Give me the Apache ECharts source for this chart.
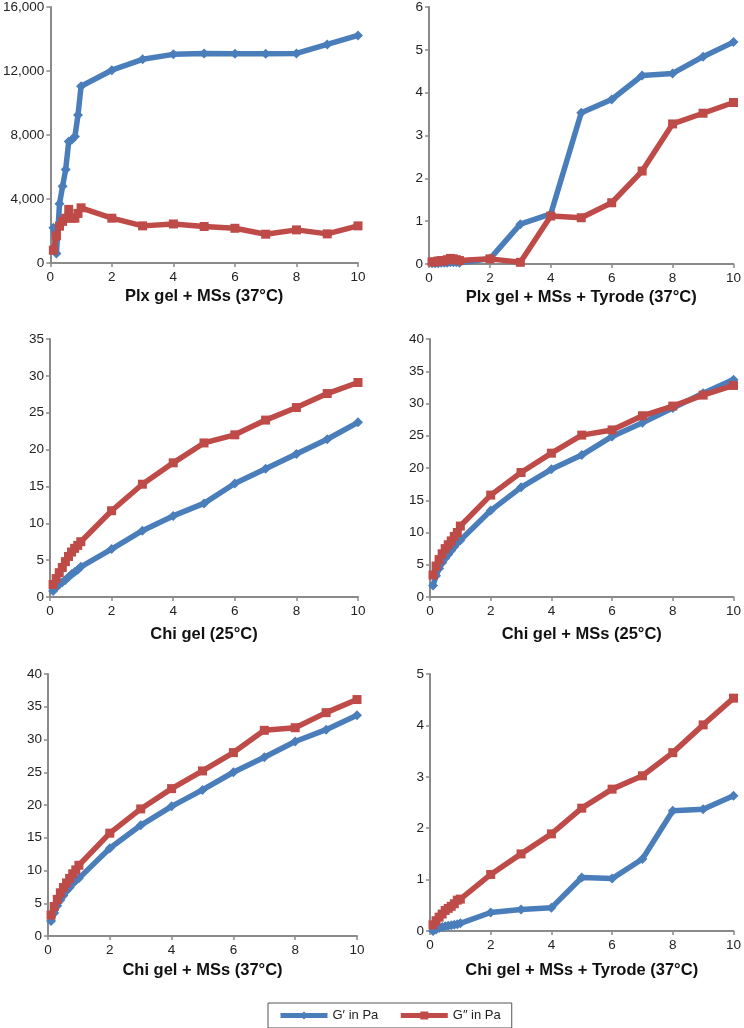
<!DOCTYPE html>
<html>
<head>
<meta charset="utf-8">
<script src="https://cdn.jsdelivr.net/npm/echarts@6/dist/echarts.min.js"></script>
<style>
html,body{margin:0;padding:0;background:#fff;}
#c{width:744px;height:1028px;}
</style>
</head>
<body>
<div id="c"></div>
<script>
// Shear stress / frequency values (x axis)
const xs = [0.1,0.2,0.3,0.4,0.5,0.6,0.7,0.8,0.9,1,2,3,4,5,6,7,8,9,10];
const seriesNames = ['G\u2032 in Pa', 'G\u2033 in Pa'];

const titles = [
  'Plx gel + MSs (37\u00B0C)',
  'Plx gel + MSs + Tyrode (37\u00B0C)',
  'Chi gel (25\u00B0C)',
  'Chi gel + MSs (25\u00B0C)',
  'Chi gel + MSs (37\u00B0C)',
  'Chi gel + MSs + Tyrode (37\u00B0C)'
];

// Panel 1: Plx gel + MSs (37°C)
const p1G1 = [2200,600,3700,4800,5850,7600,7700,7900,9250,11050,12050,12730,13040,13100,13080,13080,13100,13660,14220];
const p1G2 = [800,1700,2300,2600,2800,3350,2800,2800,3100,3450,2800,2320,2440,2280,2170,1800,2070,1820,2320];
// Panel 2: Plx gel + MSs + Tyrode (37°C)
const p2G1 = [0.02,0.02,0.02,0.03,0.03,0.03,0.04,0.04,0.04,0.03,0.12,0.93,1.17,3.53,3.84,4.40,4.45,4.84,5.18];
const p2G2 = [0.05,0.05,0.07,0.08,0.07,0.10,0.13,0.12,0.10,0.08,0.12,0.04,1.12,1.08,1.43,2.17,3.27,3.52,3.77];
// Panel 3: Chi gel (25°C)
const p3G1 = [0.8,1.3,1.7,2.0,2.3,2.7,3.1,3.4,3.7,4.1,6.5,9.0,11.0,12.7,15.4,17.4,19.4,21.4,23.7];
const p3G2 = [1.7,2.5,3.3,4.0,4.8,5.5,6.1,6.6,7.0,7.5,11.7,15.3,18.2,20.9,22.0,24.0,25.7,27.6,29.1];
// Panel 4: Chi gel + MSs (25°C)
const p4G1 = [1.8,3.3,4.4,5.3,6.0,6.6,7.2,7.8,8.4,8.8,13.4,17.0,19.8,22.0,24.9,27.0,29.3,31.6,33.7];
const p4G2 = [3.4,4.8,5.8,6.7,7.5,8.1,8.7,9.4,10.0,11.0,15.8,19.3,22.3,25.1,25.9,28.1,29.6,31.3,32.8];
// Panel 5: Chi gel + MSs (37°C)
const p5G1 = [2.3,3.5,4.6,5.5,6.2,6.9,7.4,8.0,8.5,8.8,13.4,16.9,19.8,22.3,25.0,27.3,29.7,31.5,33.7];
const p5G2 = [3.2,4.5,5.6,6.6,7.4,8.1,8.8,9.5,10.1,10.8,15.7,19.4,22.5,25.2,28.0,31.4,31.8,34.1,36.1];
// Panel 6: Chi gel + MSs + Tyrode (37°C)
const p6G1 = [0.0,0.03,0.06,0.08,0.09,0.10,0.11,0.12,0.13,0.15,0.36,0.42,0.45,1.04,1.02,1.40,2.34,2.37,2.63];
const p6G2 = [0.12,0.20,0.27,0.33,0.40,0.44,0.48,0.53,0.60,0.62,1.10,1.50,1.89,2.39,2.76,3.02,3.47,4.01,4.53];

// Axis ranges
const yMax = [16000, 6, 35, 40, 40, 5];
const yStep = [4000, 1, 5, 5, 5, 1];
const xMax = 10, xStep = 2;

const panelsG1 = [p1G1,p2G1,p3G1,p4G1,p5G1,p6G1];
const panelsG2 = [p1G2,p2G2,p3G2,p4G2,p5G2,p6G2];

// Layout (pixels)
const grids = [
  {left:50, right:386, top:6, bottom:765},
  {left:429, right:7, top:5, bottom:764},
  {left:50, right:386, top:339, bottom:431},
  {left:430, right:7, top:339, bottom:431},
  {left:48, right:387, top:674, bottom:92},
  {left:430, right:7, top:674, bottom:97}
];
const nameGaps = [25, 25, 29, 29, 26, 31];

const BLUE = '#4A7EBB', RED = '#BE4B48', AXIS = '#8a8a8a';
const FONT = '"Liberation Sans", Arial, sans-serif';

const xAxes = [], yAxes = [], series = [];
for (let i = 0; i < 6; i++) {
  xAxes.push({
    gridIndex: i, type: 'value', min: 0, max: xMax, interval: xStep,
    name: titles[i], nameLocation: 'middle', nameGap: nameGaps[i],
    nameTextStyle: {fontFamily: FONT, fontSize: 16.5, fontWeight: 'bold', color: '#111'},
    axisLine: {show: true, onZero: false, lineStyle: {color: AXIS, width: 2}},
    axisTick: {show: true, length: 4, lineStyle: {color: AXIS, width: 1.5}},
    axisLabel: {fontFamily: FONT, fontSize: 13.5, color: '#222', margin: 7},
    splitLine: {show: false}
  });
  yAxes.push({
    gridIndex: i, type: 'value', min: 0, max: yMax[i], interval: yStep[i],
    axisLine: {show: true, lineStyle: {color: AXIS, width: 2}},
    axisTick: {show: true, length: 4, lineStyle: {color: AXIS, width: 1.5}},
    axisLabel: {fontFamily: FONT, fontSize: 13.5, color: '#222', margin: 6,
      formatter: v => v.toLocaleString('en-US')},
    splitLine: {show: false}
  });
  series.push({
    name: seriesNames[0], type: 'line', xAxisIndex: i, yAxisIndex: i,
    data: xs.map((x, k) => [x, panelsG1[i][k]]),
    symbol: 'diamond', symbolSize: 10, showAllSymbol: true,
    lineStyle: {color: BLUE, width: 5.5}, itemStyle: {color: BLUE},
    animation: false, z: 2
  });
  series.push({
    name: seriesNames[1], type: 'line', xAxisIndex: i, yAxisIndex: i,
    data: xs.map((x, k) => [x, panelsG2[i][k]]),
    symbol: 'rect', symbolSize: 9, showAllSymbol: true,
    lineStyle: {color: RED, width: 5.5}, itemStyle: {color: RED},
    animation: false, z: 3
  });
}

const chart = echarts.init(document.getElementById('c'), null, {renderer: 'canvas'});
chart.setOption({
  animation: false,
  backgroundColor: '#fff',
  grid: grids.map(g => Object.assign({containLabel: false}, g)),
  xAxis: xAxes,
  yAxis: yAxes,
  legend: {
    data: seriesNames,
    left: 268, top: 1003,
    orient: 'horizontal',
    itemWidth: 47, itemHeight: 10, itemGap: 20,
    padding: [6, 11, 6, 10],
    borderColor: '#555', borderWidth: 1,
    lineStyle: {width: 5},
    textStyle: {fontFamily: FONT, fontSize: 13, color: '#222'}
  },
  series: series
});
</script>
</body>
</html>
